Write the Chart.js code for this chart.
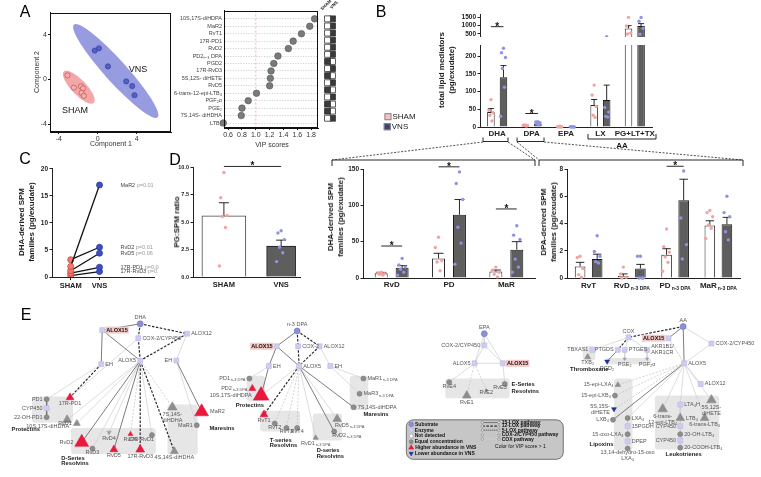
<!DOCTYPE html>
<html>
<head>
<meta charset="utf-8">
<script src="https://cdn.jsdelivr.net/npm/chart.js@4.4.1/dist/chart.umd.min.js"></script>
<style>
  body { margin: 0; width: 761px; height: 477px; position: relative; overflow: hidden; background: #fff;
         font-family: "Liberation Sans", Arial, sans-serif; }
  canvas, svg { position: absolute; }
  .t { position: absolute; white-space: nowrap; color: #1a1a1a; line-height: 1.2; text-align: center; }
  .sq { display: inline-block; width: 5px; height: 5px; border: 1px solid #888; margin-right: 1px; vertical-align: -1px; }
</style>
</head>
<body>
<svg width="761" height="477" style="left:0;top:0">
  <g fill="none" stroke="#111" stroke-width="0.9">
    <polyline points="483,137.5 483,141.5 508,141.5 508,137.5"/>
    <polyline points="517,137.5 517,141.5 544,141.5 544,137.5"/>
    <polyline points="588,134 588,139 656,139 656,134"/>
    <polyline points="332,166 332,160 535,160 535,166"/>
    <polyline points="539,166 539,160 743,160 743,166"/>
  </g>
  <g stroke="#222" stroke-width="0.8" stroke-dasharray="2,1.5">
    <line x1="483" y1="142" x2="332" y2="160"/>
    <line x1="508" y1="142" x2="535" y2="160"/>
    <line x1="517" y1="142" x2="539" y2="160"/>
    <line x1="544" y1="142" x2="743" y2="160"/>
  </g>
</svg>
<script>
// ---------- A: PLS-DA scores ----------
const shamPc1 = [-3.1, -2.45, -1.73, -1.5, -1.66, -1.43];
const shamPc2 = [0.36, -0.74, -0.62, -0.8, -1.21, -1.48];
const vnsPc1 = [-0.3, 0.13, 1.05, 2.93, 3.54, 3.78];
const vnsPc2 = [2.58, 2.78, 1.16, -0.18, -0.6, -1.42];
// long axis ends of the group ellipses (x1, y1, x2, y2)
const shamEllipse = [-3.47, 0.71, -0.41, -2.1];
const vnsEllipse = [-2.45, 4.9, 6.15, -3.4];

// ---------- A: VIP scores ----------
const vipNames = ['10S,17S-diHDPA', 'MaR2', 'RvT1', '17R-PD1', 'RvD2', 'PD2ₙ₋₃ DPA', 'PGD2', '17R-RvD3',
  '5S,12S- diHETE', 'RvD5', '6-trans-12-epi-LTB₄', 'PGF₂α', 'PGE₂', '7S,14S- diHDHA', 'LTB₄'];
const vipScores = [1.85, 1.78, 1.66, 1.54, 1.47, 1.32, 1.26, 1.22, 1.21, 1.2, 1.01, 0.89, 0.8, 0.79, 0.53];
const higherInVns = [1, 1, 1, 1, 1, 1, 0, 1, 0, 1, 0, 1, 0, 0, 1];
const vipTicks = [0.6, 0.8, 1.0, 1.2, 1.4, 1.6, 1.8];

// ---------- B: totals ----------
const lipidCats = ['DHA', 'DPA', 'EPA', 'LX', 'PG+LT+TX'];
const lipidSham = [42, 5, 1.2, 62, 830];
const lipidVns = [140, 10, 1, 76, 965];
const lipidSemSham = [10, 1, 0.6, 15.5, 160];
const lipidSemVns = [33, 3, 0.3, 42, 145];
const lipidDotsSham = [[77, 47, 40, 33, 17], [6, 5, 4, 5, 3], [2, 1, 0.5, 0, 0], [118, 90, 58, 33, 27], [1480, 970, 560, 500]];
const lipidDotsVns = [[222, 209, 196, 165, 112, 30], [15, 14, 12, 9, 6], [1, 0.5, 0, 0, 0], [345, 55, 42, 30, 28], [1480, 1250, 840, 480]];
const upperTicks = [500, 1000, 1500];

// ---------- C: paired DHA families ----------
const pairNames = ['MaR2', 'RvD2', 'RvD5', '17R-PD1', '17R-RvD3'];
const pairSham = [1.95, 3.2, 1.15, 0.7, 0.25];
const pairVns = [17, 5.5, 4.4, 1.8, 1.0];
const pairP = ['p=0.01', 'p=0.01', 'p=0.06', 'p=0.04', 'p=0.1'];

// ---------- D: PG:SPM ratio ----------
const ratioSham = 5.55, ratioVns = 2.8;
const ratioSemSham = 1.2, ratioSemVns = 0.55;
const ratioDotsSham = [9.5, 7.2, 5.6, 5.5, 4.5, 1.0];
const ratioDotsVns = [4.2, 4.0, 3.4, 2.7, 2.2, 1.4];

// ---------- D: DHA-derived families ----------
const dhaCats = ['RvD', 'PD', 'MaR'];
const dhaSham = [6.5, 27, 9];
const dhaVns = [14, 87, 39];
const dhaSemSham = [1.2, 7, 2];
const dhaSemVns = [3, 21, 11];
const dhaDotsSham = [[8, 7, 6, 5, 4], [56, 42, 24, 22, 10], [15, 11, 8, 5, 1.5]];
const dhaDotsVns = [[27, 18, 15, 12, 8, 4], [146, 130, 108, 70, 48, 19], [72, 59, 53, 26, 15, 8]];

// ---------- D: DPA-derived families ----------
const dpaCats = ['RvT', 'RvD', 'PD', 'MaR'];
const dpaSubs = ['', 'n-3 DPA', 'n-3 DPA', 'n-3 DPA'];
const dpaSham = [0.85, 0.15, 1.7, 3.85];
const dpaVns = [1.4, 0.7, 5.7, 3.95];
const dpaSemSham = [0.3, 0.15, 0.45, 0.35];
const dpaSemVns = [0.35, 0.3, 1.55, 0.5];
const dpaDotsSham = [[1.6, 1.5, 0.7, 0.25, 0.05], [0.8, 0.3, 0.05, 0], [3.6, 2.3, 1.9, 1.55, 1.15, 0.5], [4.95, 4.8, 4.5, 3.9, 3.65, 2.9]];
const dpaDotsVns = [[3.1, 1.95, 1.6, 1.2, 1.1], [1.6, 1.6, 0, 0, 0], [7.85, 4.4, 2.45, 1.4], [6.0, 4.8, 4.5, 3.4, 2.8]];

// ---------- E: pathway networks (id, label, x, y, kind, size, label side) ----------
const dhaNodes = [
  ['dha', 'DHA', 134, 317, 'sub', 3, 't'], ['d15', 'ALOX15', 95, 324, 'enzh', 3.5, 'r'],
  ['dcox', 'COX-2/CYP450', 132, 333, 'enz', 3.5, 'r'], ['d12', 'ALOX12', 182, 328, 'enz', 3.5, 'r'],
  ['d5', 'ALOX5', 134, 358, 'enz', 3.5, 'l'], ['deh1', 'EH', 94, 362, 'enz', 3.5, 'r'],
  ['deh2', 'EH', 171, 358, 'enz', 3.5, 'l'], ['pd1', 'PD1', 38, 401, 'eq', 2.5, 'l'],
  ['r17pd1', '17R-PD1', 62, 399, 'up', 4.5, 'b'], ['dcyp', 'CYP450', 38, 411, 'enz', 3.5, 'l'],
  ['oh22', '22-OH-PD1', 38, 421, 'eq', 2.5, 'l'], ['dh1017', '10S,17S-diHDHA', 59, 424, 'upg', 5, 'bl'],
  ['rvd1', 'RvD1', 69, 428, 'upg', 4, 'l'], ['rvd2', 'RvD2', 74, 449, 'up', 8, 'l'],
  ['rvd3', 'RvD3', 85, 456, 'eq', 2.5, 'b'], ['rvd4', 'RvD4', 102, 438, 'downg', 2.5, 'b'],
  ['rvd5', 'RvD5', 107, 457, 'up', 4.5, 'b'], ['rvd6', 'RvD6', 124, 440, 'up', 2.8, 'b'],
  ['r17rvd1', '17R-RvD1', 146, 441, 'eq', 2.5, 'bl'], ['r17rvd3', '17R-RvD3', 134, 457, 'up', 5, 'b'],
  ['d714', '7S,14S-\ndiHDHA', 167, 410, 'upg', 5.5, 'b'], ['mar2', 'MaR2', 197, 415, 'up', 8, 'r'],
  ['mar1', 'MaR1', 192, 430, 'eq', 2.5, 'l'], ['d414', '4S,14S-diHDHA', 169, 459, 'upg', 4.5, 'b']
];
const dhaEdges = [
  ['dha', 'd15', 'k'], ['dha', 'd12', 'kd'], ['dha', 'dcox', 'kd'], ['dcox', 'd5', 'kd'], ['d15', 'deh1', 'k'],
  ['d15', 'd5', 'k'], ['d12', 'd5', 'kd'], ['d12', 'deh2', 'g'], ['dcox', 'r17pd1', 'g'], ['deh1', 'r17pd1', 'kd'],
  ['deh1', 'pd1', 'g'], ['pd1', 'dcyp', 'k'], ['dcyp', 'oh22', 'k'], ['d5', 'dh1017', 'g'], ['d5', 'rvd1', 'g'],
  ['d5', 'rvd2', 'k'], ['d5', 'rvd3', 'g'], ['d5', 'rvd4', 'g'], ['d5', 'rvd5', 'k'], ['d5', 'rvd6', 'gd'],
  ['d5', 'r17rvd1', 'g'], ['d5', 'r17rvd3', 'kd'], ['d5', 'd714', 'gd'], ['d5', 'd414', 'kd'],
  ['deh2', 'mar2', 'k'], ['deh2', 'mar1', 'g']
];
const dpaNodes = [
  ['dpa', 'n-3 DPA', 295, 325, 'sub', 3, 't'], ['p15', 'ALOX15', 274, 342, 'enzh', 3.5, 'l'],
  ['pcox', 'COX-2', 296, 342, 'enz', 3.5, 'r'], ['p12', 'ALOX12', 318, 342, 'enz', 3.5, 'r'],
  ['peh1', 'EH', 266, 364, 'enz', 3.5, 'r'], ['p5', 'ALOX5', 297, 364, 'enz', 3.5, 'r'],
  ['peh2', 'EH', 329, 364, 'enz', 3.5, 'r'], ['ppd1', 'PD1|n-3 DPA', 246, 378, 'eq', 2.5, 'l'],
  ['ppd2', 'PD2|n-3 DPA', 249, 389, 'up', 4, 'l'], ['pdh', '10S,17S-diHDPA', 258, 397, 'up', 9, 'l'],
  ['rvt1', 'RvT1', 261, 418, 'up', 4.5, 'b'], ['rvt2', 'RvT2', 272, 428, 'eq', 2.5, 'b'],
  ['rvt3', 'RvT3', 284, 433, 'eq', 2.5, 'b'], ['rvt4', 'RvT4', 295, 433, 'eq', 2.5, 'b'],
  ['prvd5', 'RvD5|n-3 DPA', 336, 423, 'upg', 5, 'br'], ['prvd2', 'RvD2|n-3 DPA', 333, 437, 'eq', 2.5, 'br'],
  ['prvd1', 'RvD1|n-3 DPA', 314, 444, 'upg', 3, 'b'], ['pmar1', 'MaR1|n-3 DPA', 363, 378, 'eq', 2.5, 'r'],
  ['pmar3', 'MaR3|n-3 DPA', 359, 395, 'eq', 2.5, 'r'], ['p714', '7S,14S-diHDPA', 353, 410, 'eq', 2.5, 'r']
];
const dpaEdges = [
  ['dpa', 'p15', 'k'], ['dpa', 'p12', 'kd'], ['dpa', 'pcox', 'kd'], ['pcox', 'p5', 'kd'], ['p15', 'peh1', 'k'],
  ['p15', 'p5', 'k'], ['p12', 'p5', 'kd'], ['p12', 'peh2', 'g'], ['peh1', 'pdh', 'k'], ['peh1', 'ppd1', 'g'],
  ['p5', 'pdh', 'g'], ['p5', 'rvt1', 'kd'], ['p5', 'rvt2', 'gd'], ['p5', 'rvt3', 'gd'], ['p5', 'rvt4', 'gd'],
  ['p5', 'prvd1', 'g'], ['p5', 'prvd5', 'g'], ['p5', 'prvd2', 'k'], ['p5', 'p714', 'k'],
  ['peh2', 'pmar1', 'g'], ['peh2', 'pmar3', 'g']
];
const epaNodes = [
  ['epa', 'EPA', 487, 328, 'sub', 3, 't'], ['ecox', 'COX-2/CYP450', 487, 341, 'enz', 3.5, 'l'],
  ['e5', 'ALOX5', 477, 361, 'enz', 3.5, 'l'], ['e15', 'ALOX15', 506, 361, 'enzh', 3.5, 'r'],
  ['rve4', 'RvE4', 451, 382, 'eq', 2.5, 'b'], ['rve1', 'RvE1', 469, 397, 'upg', 5, 'b'],
  ['rve2', 'RvE2', 489, 391, 'eq', 1.2, 'b'], ['rve3', 'RvE3', 508, 384, 'eq', 2.5, 'bl']
];
const epaEdges = [
  ['epa', 'ecox', 'g'], ['epa', 'e5', 'g'], ['epa', 'e15', 'g'], ['ecox', 'e5', 'g'], ['ecox', 'e15', 'g'],
  ['e5', 'e15', 'g'], ['e5', 'rve4', 'g'], ['e5', 'rve1', 'gd'], ['e5', 'rve2', 'gd'], ['e15', 'rve3', 'g']
];
const aaNodes = [
  ['aa', 'AA', 691, 320, 'sub', 3, 't'], ['acox', 'COX', 635, 332, 'enz', 3.5, 't'],
  ['a15a', 'ALOX15', 676, 333, 'enzh', 3.5, 'l'], ['acyp', 'COX-2/CYP450', 720, 339, 'enz', 3.5, 'r'],
  ['tbx', 'TBXAS1', 598, 346, 'enz', 3.5, 'l'], ['ptgds', 'PTGDS', 624, 346, 'enz', 3.5, 'l'],
  ['ptges', 'PTGES', 631, 346, 'enz', 3.5, 'r'], ['akr', 'AKR1B1/\nAKR1CR', 654, 346, 'enz', 3.5, 'r'],
  ['txb2', 'TXB₂', 593, 354, 'upg', 3.5, 'b'], ['pgd2', 'PGD₂', 613, 359, 'down', 2.8, 'b'],
  ['pge2', 'PGE₂', 631, 356, 'downg', 1.8, 'b'], ['pgf2', 'PGF₂α', 654, 356, 'downg', 1.8, 'b'],
  ['a5a', 'ALOX5', 692, 361, 'enz', 3.5, 'r'], ['a12a', 'ALOX12', 709, 384, 'enz', 3.5, 'r'],
  ['elxa4', '15-epi-LXA₄', 624, 385, 'upg', 3.2, 'l'], ['elxb4', '15-epi-LXB₄', 621, 397, 'eq', 2.5, 'l'],
  ['dihete', '5S,15S-\ndiHETE', 620, 412, 'down', 2.8, 'l'], ['lxb4', 'LXB₄', 619, 424, 'eq', 2.5, 'l'],
  ['lxa4', 'LXA₄', 634, 422, 'eq', 2.5, 'r'], ['pgdh', '15PGDH', 634, 431, 'enz', 3.5, 'r'],
  ['oxo', '15-oxo-LXA₄', 634, 440, 'eq', 2.5, 'l'], ['dpep', 'DPEP', 634, 448, 'enz', 3.5, 'r'],
  ['dh', '13,14-dehydro-15-oxo\nLXA₄', 634, 456, 'eq', 2.5, 'b'],
  ['t12', '6-trans-\n12-epi-LTB₄', 670, 412, 'upg', 5.5, 'b'], ['lta4h', 'LTA₄H', 688, 407, 'enz', 3.5, 'r'],
  ['ltb4', 'LTB₄', 688, 422, 'upg', 5, 'r'], ['cyp1', 'CYP450', 688, 431, 'enz', 3.5, 'l'],
  ['oh20', '20-OH-LTB₄', 688, 440, 'eq', 2.5, 'r'], ['cyp2', 'CYP450', 688, 447, 'enz', 3.5, 'l'],
  ['cooh', '20-COOH-LTB₄', 688, 455, 'eq', 2.5, 'r'], ['t6', '6-trans-LTB₄', 713, 422, 'upg', 5, 'b'],
  ['d512', '5S,12S-\ndiHETE', 720, 402, 'upg', 5.5, 'b']
];
const aaEdges = [
  ['aa', 'acox', 'kd'], ['aa', 'a15a', 'k'], ['aa', 'a5a', 'k'], ['aa', 'acyp', 'g'], ['a15a', 'a5a', 'g'],
  ['acyp', 'a5a', 'g'], ['acox', 'tbx', 'g'], ['acox', 'ptgds', 'kd'], ['acox', 'ptges', 'g'], ['acox', 'akr', 'g'],
  ['tbx', 'txb2', 'g'], ['ptgds', 'pgd2', 'k'], ['ptges', 'pge2', 'g'], ['akr', 'pgf2', 'g'], ['a5a', 'a12a', 'g'],
  ['a5a', 'elxa4', 'gd'], ['a5a', 'elxb4', 'gd'], ['a5a', 'dihete', 'gd'], ['a5a', 'lxb4', 'k'], ['a5a', 'lxa4', 'g'],
  ['a5a', 't12', 'g'], ['a5a', 'lta4h', 'g'], ['a5a', 't6', 'g'], ['a5a', 'd512', 'g'], ['lxa4', 'pgdh', 'g'],
  ['pgdh', 'oxo', 'g'], ['oxo', 'dpep', 'g'], ['dpep', 'dh', 'g'], ['lta4h', 'ltb4', 'g'], ['ltb4', 'cyp1', 'g'],
  ['cyp1', 'oh20', 'g'], ['oh20', 'cyp2', 'g'], ['cyp2', 'cooh', 'g']
];
const keyNodes = [
  ['k1', 'Substrate', 412, 429, 'sub', 2.3, 'r'], ['k2', 'Enzyme', 412, 435.5, 'enz', 2.8, 'r'],
  ['k3', 'Not detected', 412, 442, 'nd', 2, 'r'], ['k4', 'Equal concentration', 412, 448.5, 'eq', 2, 'r'],
  ['k5', 'Higher abundance in VNS', 412, 455, 'up', 2.8, 'r'], ['k6', 'Lower abundance in VNS', 412, 461.5, 'down', 2.3, 'r'],
  ['la1', '', 485, 427, 'tiny', 1.2, ''], ['lb1', '15-LOX pathway', 502, 427, 'tiny', 1.2, 'r'],
  ['la2', '', 485, 431, 'tiny', 1.2, ''], ['lb2', '12-LOX pathway', 502, 431, 'tiny', 1.2, 'r'],
  ['la3', '', 485, 435.5, 'tiny', 1.2, ''], ['lb3', '5-LOX pathway', 502, 435.5, 'tiny', 1.2, 'r'],
  ['la4', '', 485, 441, 'tiny', 1.2, ''], ['lb4', 'COX-2/CYP450 pathway', 502, 441, 'tiny', 1.2, 'r'],
  ['la5', '', 485, 445.5, 'tiny', 1.2, ''], ['lb5', 'COX pathway', 502, 445.5, 'tiny', 1.2, 'r']
];
const keyEdges = [['la1', 'lb1', 'k'], ['la2', 'lb2', 'kd'], ['la3', 'lb3', 'kt'], ['la4', 'lb4', 'gd'], ['la5', 'lb5', 'g']];
const groupBoxes = [[23, 398, 65, 427], [63, 433, 150, 462], [162, 407, 193, 463], [243, 375, 262, 403],
  [257, 414, 298, 437], [311, 417, 341, 447], [349, 375, 368, 413], [447, 378, 513, 400], [588, 342, 601, 358],
  [612, 355, 658, 362], [620, 378, 639, 458], [662, 397, 728, 457]];
const keyBox = [407, 424, 568, 468];
const groupTitles = [['Protectins', 2, 435], ['D-Series', 53, 467], ['Resolvins', 53, 473], ['Maresins', 205, 433],
  ['Protectins', 232, 408], ['T-series', 267, 447], ['Resolvins', 267, 453], ['D-series', 315, 458],
  ['Resolvins', 315, 465], ['Maresins', 363, 418], ['E-Series', 515, 384], ['Resolvins', 515, 392],
  ['Thromboxane', 575, 368], ['Lipoxins', 595, 451], ['Leukotrienes', 673, 462]];

// ---------- setup ----------
const FONT = '"Liberation Sans", Arial, sans-serif';
Chart.defaults.font.family = FONT;
Chart.defaults.color = '#222';
Chart.defaults.animation = false;
Chart.defaults.responsive = false;
Chart.defaults.devicePixelRatio = 1;
Chart.defaults.plugins.legend.display = false;
Chart.defaults.plugins.tooltip.enabled = false;

const DOT_S = '#f4a3a3', DOT_V = '#8f93e6';
const JIT = [0, -2.4, 2.4, -1.2, 1.2, -3.4, 3.4];

// canvas placed so that the chart area lands on `area` (left, top, right, bottom)
function mk(area, yw, xh, pad, padTop) {
  const pt = padTop == null ? pad : padTop;
  const c = document.createElement('canvas');
  c.width = area[2] - area[0] + yw + pad;
  c.height = area[3] - area[1] + pt + xh;
  c.style.left = (area[0] - yw) + 'px';
  c.style.top = (area[1] - pt) + 'px';
  document.body.appendChild(c);
  return c;
}
function put(html, x, y, css, rot) {
  const d = document.createElement('div');
  d.className = 't';
  d.innerHTML = html;
  d.style.cssText = `left:${x}px;top:${y}px;${css || ''};transform:translate(-50%,-50%)${rot ? ` rotate(${rot}deg)` : ''};`;
  document.body.appendChild(d);
}
function yAx(min, max, step, w, extra, fs) {
  return Object.assign({
    min: min, max: max,
    ticks: { stepSize: step, includeBounds: false, autoSkip: false, font: { size: fs || 6.5, weight: 'bold' }, color: '#222', padding: 1.5, callback: v => v },
    grid: { display: true, drawOnChartArea: false, drawTicks: true, tickLength: 2.5, color: '#222' },
    border: { color: '#222', width: 1 },
    afterFit(s) { s.width = w; s.paddingTop = 0; s.paddingBottom = 0; }
  }, extra || {});
}
function xCat(h, show) {
  return {
    ticks: { display: show, font: { size: 8, weight: 'bold' }, color: '#222', padding: 2, maxRotation: 0, autoSkip: false },
    grid: { display: false, drawTicks: false },
    border: { color: '#222', width: 1 },
    afterFit(s) { s.height = h; s.paddingLeft = 0; s.paddingRight = 0; }
  };
}
function pair(s, v, ss, sv, ds, dv) {
  return [
    { data: s, sem: ss, dots: ds, dotColor: DOT_S, backgroundColor: '#fff', borderColor: '#222', borderWidth: 1, clip: 0 },
    { data: v, sem: sv, dots: dv, dotColor: DOT_V, backgroundColor: '#5e5e5e', borderColor: '#1a1a1a', borderWidth: 1, clip: 0 }
  ];
}

// error bars, individual dots and significance marks for bar charts
const marks = {
  id: 'marks',
  afterDatasetsDraw(chart, args, o) {
    const ctx = chart.ctx, a = chart.chartArea, ys = chart.scales.y;
    const pt = o.padTop == null ? 3 : o.padTop, pb = o.padBottom == null ? 3 : o.padBottom;
    ctx.save();
    ctx.beginPath();
    ctx.rect(a.left - 6, a.top - pt, a.width + 12, a.height + pt + pb);
    ctx.clip();
    chart.data.datasets.forEach((ds, di) => {
      if (!ds.sem && !ds.dots) return;
      chart.getDatasetMeta(di).data.forEach((bar, i) => {
        const raw = ds.data[i];
        const v = raw && typeof raw === 'object' ? raw.y : raw;
        if (v == null) return;
        const sem = ds.sem ? ds.sem[i] : null;
        if (sem != null) {
          const top = ys.getPixelForValue(v + sem), cw = Math.min(bar.width * 0.4, 5);
          ctx.strokeStyle = '#111'; ctx.lineWidth = 0.9;
          ctx.beginPath();
          ctx.moveTo(bar.x, ys.getPixelForValue(v)); ctx.lineTo(bar.x, top);
          ctx.moveTo(bar.x - cw, top); ctx.lineTo(bar.x + cw, top);
          ctx.stroke();
        }
        const pts = ds.dots ? ds.dots[i] : null;
        if (pts) {
          ctx.fillStyle = ds.dotColor;
          pts.forEach((p, k) => {
            ctx.beginPath();
            ctx.arc(bar.x + JIT[k % JIT.length] * Math.min(bar.width, 12) / 9, ys.getPixelForValue(p), 1.7, 0, Math.PI * 2);
            ctx.fill();
          });
        }
      });
    });
    ctx.restore();
    (o.sig || []).forEach(s => {
      const x1 = chart.getDatasetMeta(s[0]).data[s[1]].x, x2 = chart.getDatasetMeta(s[2]).data[s[3]].x;
      const y = ys.getPixelForValue(s[4]);
      ctx.save();
      ctx.strokeStyle = '#111'; ctx.lineWidth = 0.9;
      ctx.beginPath(); ctx.moveTo(x1, y); ctx.lineTo(x2, y); ctx.stroke();
      ctx.fillStyle = '#111'; ctx.font = 'bold 10px ' + FONT; ctx.textAlign = 'center'; ctx.textBaseline = 'alphabetic';
      ctx.fillText('*', (x1 + x2) / 2, y + 3);
      ctx.restore();
    });
  }
};
// tick labels with a small subscript part
const subTicks = {
  id: 'subTicks',
  afterDraw(chart, args, o) {
    if (!o.main) return;
    const ctx = chart.ctx, xs = chart.scales.x;
    o.main.forEach((m, i) => {
      const x = xs.getPixelForValue(i), y = xs.top + 8;
      ctx.save();
      ctx.fillStyle = '#222'; ctx.textBaseline = 'middle'; ctx.textAlign = 'left';
      ctx.font = 'bold 8px ' + FONT;
      const w1 = ctx.measureText(m).width;
      ctx.font = 'bold 5px ' + FONT;
      const w2 = o.sub[i] ? ctx.measureText(o.sub[i]).width + 1 : 0;
      const sx = x - (w1 + w2) / 2;
      ctx.font = 'bold 8px ' + FONT; ctx.fillText(m, sx, y);
      if (o.sub[i]) { ctx.font = 'bold 5px ' + FONT; ctx.fillText(o.sub[i], sx + w1 + 1, y + 2.5); }
      ctx.restore();
    });
  }
};
Chart.register(marks, subTicks);

const frame = {
  id: 'frame',
  afterDraw(chart) {
    const a = chart.chartArea, ctx = chart.ctx;
    ctx.save(); ctx.strokeStyle = '#111'; ctx.lineWidth = 1;
    ctx.strokeRect(Math.round(a.left) + 0.5, Math.round(a.top) + 0.5, Math.round(a.width) - 1, Math.round(a.height) - 1);
    ctx.restore();
  }
};

// ---------- A: scores plot ----------
const ellipses = {
  id: 'ellipses',
  beforeDatasetsDraw(chart) {
    const ctx = chart.ctx, xs = chart.scales.x, ys = chart.scales.y;
    [[shamEllipse, 7.5, 'rgba(243,150,150,0.85)'], [vnsEllipse, 11, 'rgba(140,145,222,0.9)']].forEach(([e, hw, col]) => {
      const x1 = xs.getPixelForValue(e[0]), y1 = ys.getPixelForValue(e[1]);
      const x2 = xs.getPixelForValue(e[2]), y2 = ys.getPixelForValue(e[3]);
      ctx.save();
      ctx.beginPath();
      ctx.ellipse((x1 + x2) / 2, (y1 + y2) / 2, Math.hypot(x2 - x1, y2 - y1) / 2, hw, Math.atan2(y2 - y1, x2 - x1), 0, Math.PI * 2);
      ctx.fillStyle = col; ctx.fill();
      ctx.restore();
    });
  }
};
const aTick = { font: { size: 7 }, color: '#333', stepSize: 4, includeBounds: false };
new Chart(mk([50, 12, 172, 132], 30, 12, 4), {
  type: 'scatter',
  data: {
    datasets: [
      { data: shamPc1.map((x, i) => ({ x: x, y: shamPc2[i] })), pointRadius: 2.6, pointBackgroundColor: '#f3b0b0', pointBorderColor: '#c45a5a', pointBorderWidth: 0.8 },
      { data: vnsPc1.map((x, i) => ({ x: x, y: vnsPc2[i] })), pointRadius: 2.6, pointBackgroundColor: '#5560c4', pointBorderColor: '#3b44a0', pointBorderWidth: 0.8 }
    ]
  },
  options: {
    layout: { padding: { top: 4, right: 4, left: 0, bottom: 0 } },
    scales: {
      x: { min: -4.9, max: 7.55, ticks: Object.assign({ padding: 1 }, aTick), grid: { drawOnChartArea: false, tickLength: 2, color: '#111' }, border: { color: '#111' },
           afterFit(s) { s.height = 12; s.paddingLeft = 0; s.paddingRight = 0; } },
      y: { min: -4.71, max: 5.96, ticks: Object.assign({ padding: 1 }, aTick), grid: { drawOnChartArea: false, tickLength: 2, color: '#111' }, border: { color: '#111' },
           afterFit(s) { s.width = 30; s.paddingTop = 0; s.paddingBottom = 0; } }
    }
  },
  plugins: [ellipses, frame]
});

// ---------- A: VIP plot ----------
const vipLine = {
  id: 'vipLine',
  beforeDatasetsDraw(chart) {
    const ctx = chart.ctx, a = chart.chartArea, x = chart.scales.x.getPixelForValue(1.0);
    ctx.save(); ctx.strokeStyle = '#f2a0a0'; ctx.lineWidth = 0.8; ctx.setLineDash([2, 2]);
    ctx.beginPath(); ctx.moveTo(x, a.top); ctx.lineTo(x, a.bottom); ctx.stroke(); ctx.restore();
  }
};
const rowAxis = { min: -1.107, max: 14.67, reverse: true, afterBuildTicks(s) { s.ticks = vipNames.map((n, i) => ({ value: i })); } };
new Chart(mk([224, 10, 319, 128.3], 54, 12, 4), {
  type: 'scatter',
  data: { datasets: [{ data: vipScores.map((v, i) => ({ x: v, y: i })), pointRadius: 3.3, pointBackgroundColor: '#7a7a7a', pointBorderColor: '#555', pointBorderWidth: 0.6, clip: false }] },
  options: {
    layout: { padding: { top: 4, right: 4, left: 0, bottom: 0 } },
    scales: {
      x: { min: 0.54, max: 1.905, afterBuildTicks(s) { s.ticks = vipTicks.map(v => ({ value: v })); },
           ticks: { font: { size: 7 }, color: '#333', padding: 1, autoSkip: false, callback: v => v.toFixed(1) },
           grid: { drawOnChartArea: false, tickLength: 2, color: '#111' }, border: { color: '#111' },
           afterFit(s) { s.height = 12; s.paddingLeft = 0; s.paddingRight = 0; } },
      y: Object.assign({
           ticks: { font: { size: 5.5 }, color: '#444', padding: 2, autoSkip: false, callback: v => vipNames[v] },
           grid: { color: '#b5b5b5', lineWidth: 0.6, drawTicks: false }, border: { color: '#111', dash: [1.2, 1.4] },
           afterFit(s) { s.width = 54; s.paddingTop = 0; s.paddingBottom = 0; } }, rowAxis)
    }
  },
  plugins: [vipLine, frame]
});
// heat map next to it
new Chart(mk([320, 10, 336, 128.3], 0, 0, 4), {
  type: 'scatter',
  data: {
    datasets: [
      { data: higherInVns.map((h, i) => ({ x: 0, y: i })), pointStyle: 'rect', pointRadius: 4.2, pointBorderColor: '#333', pointBorderWidth: 0.8,
        pointBackgroundColor: higherInVns.map(h => h ? '#fff' : '#3a3a3a'), clip: false },
      { data: higherInVns.map((h, i) => ({ x: 1, y: i })), pointStyle: 'rect', pointRadius: 4.2, pointBorderColor: '#333', pointBorderWidth: 0.8,
        pointBackgroundColor: higherInVns.map(h => h ? '#3a3a3a' : '#fff'), clip: false }
    ]
  },
  options: {
    layout: { padding: { top: 4, right: 4, left: 0, bottom: 0 } },
    scales: { x: { display: false, min: -0.5, max: 1.5 }, y: Object.assign({ display: false }, rowAxis) }
  }
});

// ---------- B: totals, broken axis ----------
new Chart(mk([480, 14, 652, 37], 50, 0, 4, 10), {
  type: 'bar',
  data: { labels: lipidCats, datasets: pair(lipidSham, lipidVns, lipidSemSham, lipidSemVns, lipidDotsSham, lipidDotsVns) },
  options: {
    layout: { padding: { top: 10, right: 4, left: 0, bottom: 0 } },
    datasets: { bar: { categoryPercentage: 0.73, barPercentage: 0.6 } },
    scales: {
      x: { display: false },
      y: yAx(320, 1680, 500, 50, { afterBuildTicks(s) { s.ticks = upperTicks.map(v => ({ value: v })); } })
    },
    plugins: { marks: { padBottom: 0, sig: [[0, 0, 1, 0, 930]] } }
  }
});
new Chart(mk([480, 45, 652, 127], 50, 14, 4), {
  type: 'bar',
  data: { labels: lipidCats, datasets: pair(lipidSham, lipidVns, lipidSemSham, lipidSemVns, lipidDotsSham, lipidDotsVns) },
  options: {
    layout: { padding: { top: 4, right: 4, left: 0, bottom: 0 } },
    datasets: { bar: { categoryPercentage: 0.73, barPercentage: 0.6 } },
    scales: { x: xCat(14, true), y: yAx(0, 231, 50, 50) },
    plugins: { marks: { padTop: 0, sig: [[0, 1, 1, 1, 38]] } }
  }
});

// ---------- C: paired lines ----------
const pairLabels = {
  id: 'pairLabels',
  afterDatasetsDraw(chart) {
    const ctx = chart.ctx;
    pairNames.forEach((n, i) => {
      const p = chart.getDatasetMeta(i).data[1];
      ctx.save(); ctx.textBaseline = 'middle'; ctx.textAlign = 'left';
      ctx.font = '5.5px ' + FONT; ctx.fillStyle = '#444';
      const x = p.x + 21;
      ctx.fillText(n, x, p.y);
      const w = ctx.measureText(n + ' ').width;
      ctx.fillStyle = '#9a9a9a'; ctx.fillText(pairP[i], x + w, p.y);
      ctx.restore();
    });
  }
};
new Chart(mk([52, 168.3, 155, 277.3], 40, 14, 4), {
  type: 'scatter',
  data: {
    datasets: pairNames.map((n, i) => ({
      data: [{ x: 0, y: pairSham[i] }, { x: 1, y: pairVns[i] }], showLine: true, borderColor: '#111', borderWidth: 1.3,
      pointRadius: 3, pointBorderWidth: 0.8, pointBackgroundColor: ['#f27a72', '#3d4fc8'], pointBorderColor: ['#c8453e', '#2a3aa0']
    }))
  },
  options: {
    layout: { padding: { top: 4, right: 4, left: 0, bottom: 0 } },
    scales: {
      x: { min: -0.65, max: 2.9, afterBuildTicks(s) { s.ticks = [{ value: 0 }, { value: 1 }]; },
           ticks: { font: { size: 7.5, weight: 'bold' }, color: '#222', padding: 1, callback: v => (v === 0 ? 'SHAM' : 'VNS') },
           grid: { drawOnChartArea: false, tickLength: 3, color: '#222' }, border: { color: '#222' },
           afterFit(s) { s.height = 14; s.paddingLeft = 0; s.paddingRight = 0; } },
      y: yAx(0, 20, 5, 40)
    }
  },
  plugins: [pairLabels]
});

// ---------- D: PG:SPM ratio ----------
new Chart(mk([193, 166.7, 300, 276.7], 40, 14, 4, 12), {
  type: 'bar',
  data: {
    datasets: [
      { data: [{ x: 0, y: ratioSham }], sem: [ratioSemSham], dots: [ratioDotsSham], dotColor: DOT_S, barThickness: 44,
        backgroundColor: '#fff', borderColor: '#444', borderWidth: 1 },
      { data: [{ x: 1, y: ratioVns }], sem: [ratioSemVns], dots: [ratioDotsVns], dotColor: DOT_V, barThickness: 29,
        backgroundColor: '#5e5e5e', borderColor: '#1a1a1a', borderWidth: 1 }
    ]
  },
  options: {
    layout: { padding: { top: 12, right: 4, left: 0, bottom: 0 } },
    datasets: { bar: { grouped: false } },
    scales: {
      x: { type: 'linear', offset: false, min: -0.54, max: 1.33, afterBuildTicks(s) { s.ticks = [{ value: 0 }, { value: 1 }]; },
           ticks: { font: { size: 7.5, weight: 'bold' }, color: '#222', padding: 3, callback: v => (v === 0 ? 'SHAM' : 'VNS') },
           grid: { display: false, drawTicks: false }, border: { color: '#222' },
           afterFit(s) { s.height = 14; s.paddingLeft = 0; s.paddingRight = 0; } },
      y: yAx(0, 10, 2.5, 40, { ticks: { stepSize: 2.5, includeBounds: false, autoSkip: false, font: { size: 5.5, weight: 'bold' }, color: '#222', padding: 1.5, callback: v => v.toFixed(1) } })
    },
    plugins: { marks: { sig: [[0, 0, 1, 0, 10.05]] } }
  }
});

// ---------- D: DHA-derived families ----------
new Chart(mk([363, 169.3, 535, 279], 40, 14, 4, 12), {
  type: 'bar',
  data: { labels: dhaCats, datasets: pair(dhaSham, dhaVns, dhaSemSham, dhaSemVns, dhaDotsSham, dhaDotsVns) },
  options: {
    layout: { padding: { top: 12, right: 4, left: 0, bottom: 0 } },
    datasets: { bar: { categoryPercentage: 0.73, barPercentage: 0.62 } },
    scales: { x: xCat(14, true), y: yAx(0, 150, 50, 40) },
    plugins: { marks: { sig: [[0, 0, 1, 0, 44], [0, 1, 1, 1, 153], [0, 2, 1, 2, 95]] } }
  }
});

// ---------- D: DPA-derived families ----------
new Chart(mk([567, 169.3, 740, 278.3], 40, 14, 4, 12), {
  type: 'bar',
  data: { labels: dpaCats, datasets: pair(dpaSham, dpaVns, dpaSemSham, dpaSemVns, dpaDotsSham, dpaDotsVns) },
  options: {
    layout: { padding: { top: 12, right: 4, left: 0, bottom: 0 } },
    datasets: { bar: { categoryPercentage: 0.79, barPercentage: 0.62 } },
    scales: { x: xCat(14, false), y: yAx(0, 8, 2, 40) },
    plugins: { marks: { sig: [[0, 2, 1, 2, 8.2]] }, subTicks: { main: dpaCats, sub: dpaSubs } }
  }
});

// ---------- E: pathway networks ----------
const EDGE = {
  k: { c: '#6e6e6e', w: 0.9, d: [] },
  g: { c: '#cfcfcf', w: 0.7, d: [] },
  kd: { c: '#2a2a2a', w: 1.2, d: [2.5, 1.5] },
  gd: { c: '#c2c2c2', w: 0.7, d: [2, 1.5] },
  kt: { c: '#3a3a3a', w: 1, d: [1, 1] }
};
const KIND = {
  sub: ['circle', '#8c90d8', '#6d72c2', 0], enz: ['rect', '#cdcdf0', '#b9b9e6', 0], enzh: ['rect', '#cdcdf0', '#b9b9e6', 0],
  eq: ['circle', '#8d8d8d', '#7a7a7a', 0], nd: ['circle', '#ffffff', '#999', 0], tiny: ['circle', '#eeeeee', '#777', 0],
  up: ['triangle', '#e8193c', '#e8193c', 0], upg: ['triangle', '#8e8e8e', '#8e8e8e', 0],
  down: ['triangle', '#1d2f9e', '#1d2f9e', 180], downg: ['triangle', '#a0a0a0', '#a0a0a0', 180]
};
const netGroups = [
  { nodes: dhaNodes, edges: dhaEdges }, { nodes: dpaNodes, edges: dpaEdges }, { nodes: epaNodes, edges: epaEdges },
  { nodes: aaNodes, edges: aaEdges }, { nodes: keyNodes, edges: keyEdges, key: true }
];
const byId = {};
netGroups.forEach(g => g.nodes.forEach(n => { byId[n[0]] = n; }));
const allNodes = [].concat(...netGroups.map(g => g.nodes));

function rich(ctx, text, x, y, align, size, color, weight) {
  const lines = text.split('\n');
  lines.forEach((line, li) => {
    const parts = line.split('|');
    ctx.font = `${weight} ${size}px ${FONT}`;
    const w1 = ctx.measureText(parts[0]).width;
    let w2 = 0;
    if (parts[1]) { ctx.font = `${weight} ${size * 0.72}px ${FONT}`; w2 = ctx.measureText(parts[1]).width + 0.8; }
    const tw = w1 + w2;
    const sx = align === 'right' ? x - tw : align === 'center' ? x - tw / 2 : x;
    const yy = y + li * size * 1.1;
    ctx.fillStyle = color; ctx.textAlign = 'left'; ctx.textBaseline = 'middle';
    ctx.font = `${weight} ${size}px ${FONT}`;
    ctx.fillText(parts[0], sx, yy);
    if (parts[1]) { ctx.font = `${weight} ${size * 0.72}px ${FONT}`; ctx.fillText(parts[1], sx + w1 + 0.8, yy + size * 0.3); }
  });
}
function gapOf(n, side) {
  const k = n[4], r = n[5];
  if (k === 'up' || k === 'upg') return side === 'b' ? r * 0.5 + 4.2 : side === 't' ? r + 4 : r * 0.87 + 1.5;
  if (k === 'down' || k === 'downg') return side === 'b' ? r + 4 : r * 0.87 + 1.5;
  if (k === 'enz' || k === 'enzh') return r * 0.75 + 1.5;
  return r + 1.5;
}
const net = {
  id: 'net',
  beforeDatasetsDraw(chart) {
    const ctx = chart.ctx, xs = chart.scales.x, ys = chart.scales.y;
    const box = (b, r) => {
      const x0 = xs.getPixelForValue(b[0]), y0 = ys.getPixelForValue(b[1]);
      ctx.beginPath();
      ctx.roundRect(x0, y0, xs.getPixelForValue(b[2]) - x0, ys.getPixelForValue(b[3]) - y0, r);
    };
    ctx.save();
    ctx.fillStyle = '#e6e6e6';
    groupBoxes.forEach(b => { box(b, 3); ctx.fill(); });
    box(keyBox, 7);
    ctx.fillStyle = '#c6c6c6'; ctx.fill();
    ctx.strokeStyle = '#555'; ctx.lineWidth = 0.8; ctx.stroke();
    ctx.restore();
  },
  afterDatasetsDraw(chart) {
    const ctx = chart.ctx, xs = chart.scales.x, ys = chart.scales.y;
    ctx.save();
    netGroups.forEach(g => g.nodes.forEach(n => {
      if (!n[1]) return;
      const x = xs.getPixelForValue(n[2]), y = ys.getPixelForValue(n[3]), side = n[6], gp = gapOf(n, side.charAt(0));
      const size = g.key ? 5 : 5.5, color = g.key ? '#111' : '#555';
      const nl = n[1].split('\n').length, lh = size * 1.1;
      if (n[4] === 'enzh') {
        ctx.font = `bold ${size}px ${FONT}`;
        const w = ctx.measureText(n[1]).width;
        const sx = side === 'l' ? x - gp - w : x + gp;
        ctx.fillStyle = '#f6c7c7'; ctx.fillRect(sx - 1, y - 3.5, w + 2, 7);
        rich(ctx, n[1], sx, y, 'left', size, '#111', 'bold');
        return;
      }
      const weight = g.key ? 'bold' : 'normal';
      if (side === 'l') rich(ctx, n[1], x - gp, y - (nl - 1) * lh / 2, 'right', size, color, weight);
      else if (side === 'r') rich(ctx, n[1], x + gp, y - (nl - 1) * lh / 2, 'left', size, color, weight);
      else if (side === 't') rich(ctx, n[1], x, y - gp - 2, 'center', size, color, weight);
      else if (side === 'b') rich(ctx, n[1], x, y + gp, 'center', size, color, weight);
      else if (side === 'bl') rich(ctx, n[1], x + 2, y + gp, 'right', size, color, weight);
      else if (side === 'br') rich(ctx, n[1], x - 2, y + gp, 'left', size, color, weight);
    }));
    groupTitles.forEach(t => rich(ctx, t[0], xs.getPixelForValue(t[1]), ys.getPixelForValue(t[2]), 'left', 5.8, '#222', 'bold'));
    rich(ctx, 'Color for VIP score > 1', xs.getPixelForValue(498), ys.getPixelForValue(454), 'left', 5, '#111', 'normal');
    ctx.restore();
  }
};
const edgeSets = [];
netGroups.forEach(g => g.edges.forEach(e => {
  const a = byId[e[0]], b = byId[e[1]], st = EDGE[e[2]];
  edgeSets.push({ data: [{ x: a[2], y: a[3] }, { x: b[2], y: b[3] }], showLine: true, pointRadius: 0,
    borderColor: st.c, borderWidth: st.w, borderDash: st.d, order: 1 });
}));
new Chart(mk([0, 290, 761, 477], 0, 0, 0), {
  type: 'scatter',
  data: {
    datasets: [{
      data: allNodes.map(n => ({ x: n[2], y: n[3] })), order: 0,
      pointStyle: allNodes.map(n => KIND[n[4]][0]),
      pointRadius: allNodes.map(n => n[5]),
      pointBackgroundColor: allNodes.map(n => KIND[n[4]][1]),
      pointBorderColor: allNodes.map(n => KIND[n[4]][2]),
      pointRotation: allNodes.map(n => KIND[n[4]][3]),
      pointBorderWidth: 0.6
    }].concat(edgeSets)
  },
  options: {
    layout: { padding: 0 },
    scales: { x: { display: false, min: 0, max: 761 }, y: { display: false, min: 290, max: 477, reverse: true } }
  },
  plugins: [net]
});

// ---------- text ----------
const big = 'font-size:16px;color:#000;';
put('A', 25, 12, big); put('B', 381, 12, big); put('C', 25, 159, big); put('D', 175, 160, big); put('E', 26, 315, big);
put('VNS', 138, 69, 'font-size:9px;color:#111');
put('SHAM', 75, 110, 'font-size:9px;color:#111');
put('Component 1', 111, 144, 'font-size:7px;color:#333');
put('Component 2', 37, 72, 'font-size:7px;color:#333', -90);
put('VIP scores', 272, 145, 'font-size:7px;color:#333');
put('SHAM', 326, 5, 'font-size:4.5px;font-weight:bold', -45);
put('VNS', 334, 5, 'font-size:4.5px;font-weight:bold', -45);
put('<span class="sq" style="background:#f6c3c3"></span>SHAM', 400, 117, 'font-size:8px;text-align:left');
put('<span class="sq" style="background:#3d4270"></span>VNS', 396, 127, 'font-size:8px;text-align:left');
put('total lipid mediators<br>(pg/exudate)', 447, 70, 'font-size:8px;font-weight:bold;line-height:10px', -90);
put('AA', 622, 146, 'font-size:8px;font-weight:bold');
put('DHA-derived SPM<br>families (pg/exudate)', 27, 222, 'font-size:8px;font-weight:bold;line-height:10px', -90);
put('PG:SPM ratio', 177, 222, 'font-size:8px;font-weight:bold', -90);
put('DHA-derived SPM<br>families (pg/exudate)', 336, 217, 'font-size:8px;font-weight:bold;line-height:10px', -90);
put('DPA-derived SPM<br>families (pg/exudate)', 549, 222, 'font-size:8px;font-weight:bold;line-height:10px', -90);
</script>
</body>
</html>
